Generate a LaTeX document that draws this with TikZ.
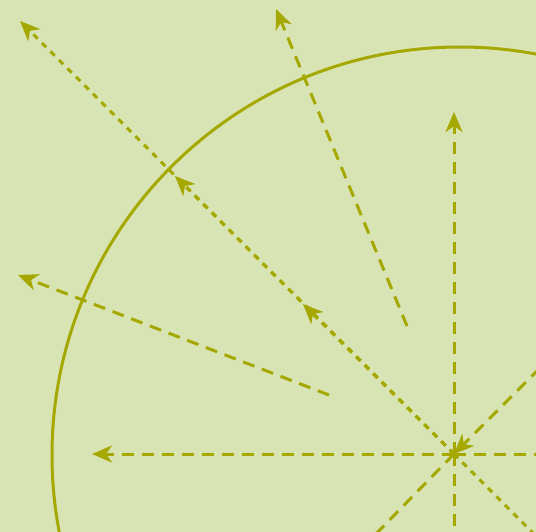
\documentclass[tikz,border=0pt]{standalone}
\usetikzlibrary{arrows.meta}
\definecolor{olivec}{RGB}{164,168,0}
\definecolor{bgc}{RGB}{217,228,180}
\begin{document}
\begin{tikzpicture}[
x=1pt, y=-1pt,
ray/.style={olivec, line width=3pt, dash pattern=on 12pt off 8pt},
dotray/.style={olivec, line width=3pt, dash pattern=on 6pt off 6pt},
tip/.style={-{Stealth[length=20pt,width=17pt,inset=6pt]}}
]
\fill[bgc] (0,0) rectangle (536,532);
\useasboundingbox (0,0) rectangle (536,532);

\coordinate (o) at (454,454);
\coordinate (n) at (454,112);
\coordinate (s) at (454,540);
\coordinate (w) at (92,454);
\coordinate (e) at (540,454);
\coordinate (ne) at (540,368);
\coordinate (sw) at (370,540);
\coordinate (se) at (540,540);
\coordinate (nw1) at (303,304);
\coordinate (nw2) at (175,176);
\coordinate (nw3) at (20,21);
\coordinate (a1) at (407,326);
\coordinate (a2) at (276,9);
\coordinate (b1) at (329,395);
\coordinate (b2) at (18,275);

\draw[olivec, line width=3pt] (460,455) circle (408);

\draw[ray,tip] (o) -- (n);
\draw[ray,tip] (o) -- (w);
\draw[ray] (o) -- (s);
\draw[ray] (o) -- (e);
\draw[ray] (o) -- (sw);
\draw[ray,tip] (ne) -- (o);
\draw[dotray] (o) -- (se);
\draw[dotray,tip] (o) -- (nw1);
\draw[dotray,tip] (o) -- (nw2);
\draw[dotray,tip] (o) -- (nw3);
\draw[ray,tip] (a1) -- (a2);
\draw[ray,tip] (b1) -- (b2);
\end{tikzpicture}
\end{document}
